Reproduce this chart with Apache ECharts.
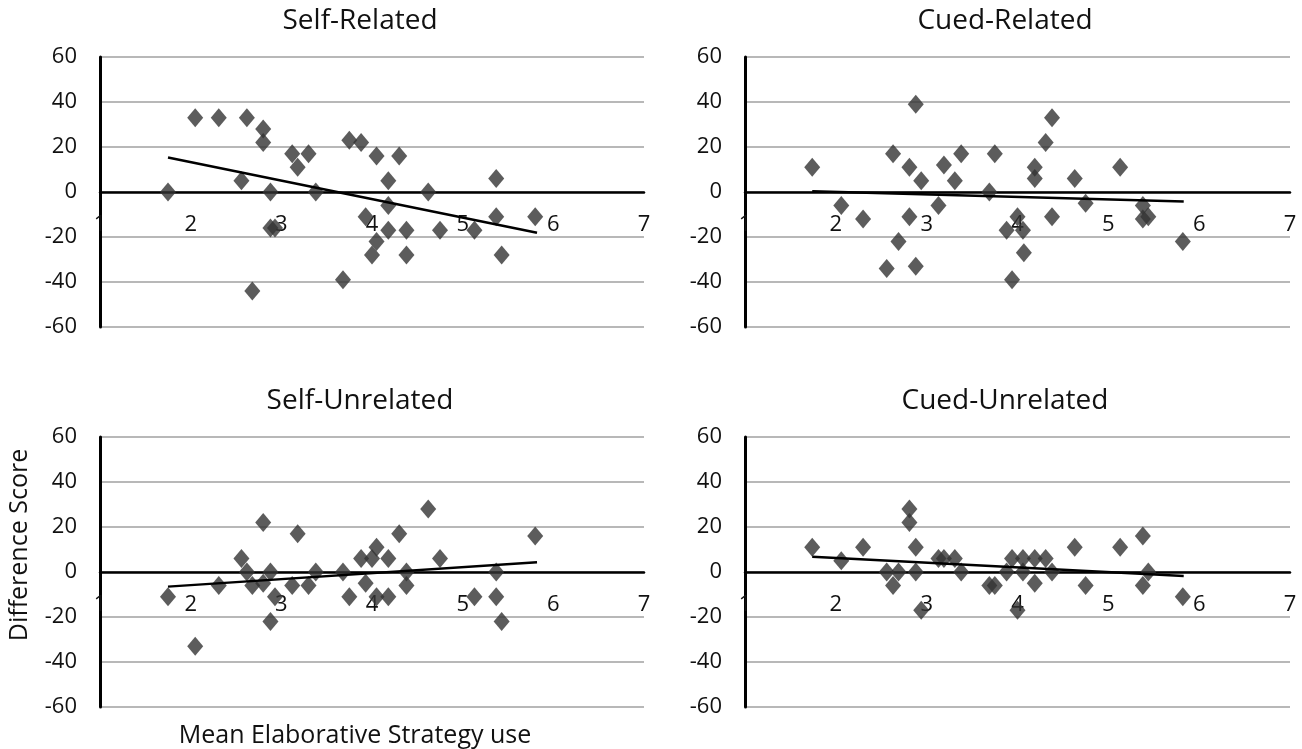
<!DOCTYPE html>
<html lang="en" style="height: 100%">
    <head>
        <meta charset="utf-8" />
    </head>
    <body style="height: 100%; margin: 0; background: #fff">
        <div id="container" style="width: 1302px; height: 749px"></div>

        <script
            type="text/javascript"
            src="https://fastly.jsdelivr.net/npm/echarts@6.0.0/dist/echarts.min.js"
        ></script>

        <script type="text/javascript">
            var panelTitles = ['Self-Related', 'Cued-Related', 'Self-Unrelated', 'Cued-Unrelated'];
            var xTicks = [1, 2, 3, 4, 5, 6, 7];
            var yTicks = [-60, -40, -20, 0, 20, 40, 60];

            // [mean strategy use, difference score]
            var selfRelated = [
                [1.75, 0], [2.05, 33], [2.31, 33], [2.62, 33], [2.8, 28], [2.8, 22],
                [2.56, 5], [2.88, 0], [2.88, -16], [2.93, -16], [2.68, -44], [3.12, 17],
                [3.3, 17], [3.18, 11], [3.38, 0], [3.75, 23], [3.88, 22], [3.68, -39],
                [3.93, -11], [4.05, 16], [4.3, 16], [4.18, 5], [4.18, -6], [4.05, -22],
                [4.0, -28], [4.18, -17], [4.38, -17], [4.38, -28], [4.62, 0], [4.75, -17],
                [5.13, -17], [5.37, 6], [5.37, -11], [5.43, -28], [5.8, -11]
            ];
            var cuedRelated = [
                [1.74, 11], [2.06, -6], [2.3, -12], [2.63, 17], [2.56, -34], [2.69, -22],
                [2.81, 11], [2.81, -11], [2.88, 39], [2.88, -33], [2.94, 5], [3.13, -6],
                [3.19, 12], [3.31, 5], [3.38, 17], [3.69, 0], [3.75, 17], [3.88, -17],
                [3.94, -39], [4.0, -11], [4.06, -17], [4.07, -27], [4.19, 11], [4.19, 6],
                [4.31, 22], [4.38, 33], [4.38, -11], [4.63, 6], [4.75, -5], [5.13, 11],
                [5.38, -6], [5.38, -12], [5.44, -11], [5.82, -22]
            ];
            var selfUnrelated = [
                [1.75, -11], [2.05, -33], [2.31, -6], [2.56, 6], [2.62, 0], [2.68, -6],
                [2.8, 22], [2.8, -5], [2.88, 0], [2.93, -11], [2.88, -22], [3.12, -6],
                [3.18, 17], [3.3, -6], [3.38, 0], [3.68, 0], [3.75, -11], [3.88, 6],
                [3.93, -5], [4.0, 6], [4.05, 11], [4.05, -11], [4.18, 6], [4.18, -11],
                [4.3, 17], [4.38, 0], [4.38, -6], [4.62, 28], [4.75, 6], [5.13, -11],
                [5.37, 0], [5.37, -11], [5.43, -22], [5.8, 16]
            ];
            var cuedUnrelated = [
                [1.74, 11], [2.06, 5], [2.3, 11], [2.56, 0], [2.63, -6], [2.69, 0],
                [2.81, 28], [2.81, 22], [2.88, 11], [2.88, 0], [2.94, -17], [3.13, 6],
                [3.19, 6], [3.31, 6], [3.38, 0], [3.69, -6], [3.75, -6], [3.88, 0],
                [3.94, 6], [4.0, -17], [4.06, 6], [4.06, 0], [4.19, 6], [4.19, -5],
                [4.31, 6], [4.38, 0], [4.63, 11], [4.75, -6], [5.13, 11], [5.38, 16],
                [5.38, -6], [5.44, 0], [5.82, -11]
            ];

            // linear trend line end points
            var selfRelatedTrend = [[1.75, 15.3], [5.82, -18.1]];
            var cuedRelatedTrend = [[1.74, 0.3], [5.83, -4.2]];
            var selfUnrelatedTrend = [[1.75, -6.5], [5.82, 4.3]];
            var cuedUnrelatedTrend = [[1.74, 6.8], [5.83, -1.8]];

            var pointSets = [selfRelated, cuedRelated, selfUnrelated, cuedUnrelated];
            var trendSets = [selfRelatedTrend, cuedRelatedTrend, selfUnrelatedTrend, cuedUnrelatedTrend];

            var font = '"Open Sans", "Noto Sans", sans-serif';
            var grids = [
                { left: 100, top: 57, width: 544, height: 270 },
                { left: 745, top: 57, width: 545, height: 270 },
                { left: 100, top: 437, width: 544, height: 270 },
                { left: 745, top: 437, width: 545, height: 270 }
            ];
            var titleX = [355, 1000, 355, 1000];
            var titleY = [2, 2, 382, 382];

            var dom = document.getElementById('container');
            var myChart = echarts.init(dom, null, { renderer: 'canvas' });

            var titles = panelTitles.map(function (t, i) {
                return {
                    text: t,
                    left: titleX[i],
                    top: titleY[i],
                    textAlign: 'center',
                    textStyle: { fontFamily: font, fontSize: 28, fontWeight: 'normal', color: '#111' }
                };
            });

            var xAxes = [], yAxes = [], series = [];
            for (var i = 0; i < 4; i++) {
                xAxes.push({
                    type: 'value',
                    gridIndex: i,
                    min: xTicks[0],
                    max: xTicks[xTicks.length - 1],
                    interval: 1,
                    // axis crosses at y = 0, the middle of the -60..60 range
                    offset: -grids[i].height / 2,
                    axisLine: { onZero: false, lineStyle: { color: '#000', width: 2.5 } },
                    axisTick: { show: false },
                    splitLine: { show: false },
                    axisLabel: {
                        margin: 22,
                        showMinLabel: true,
                        showMaxLabel: true,
                        fontFamily: font,
                        fontSize: 22,
                        color: '#111'
                    }
                });
                yAxes.push({
                    type: 'value',
                    gridIndex: i,
                    min: yTicks[0],
                    max: yTicks[yTicks.length - 1],
                    interval: 20,
                    axisLine: { show: true, onZero: false, lineStyle: { color: '#000', width: 3 } },
                    axisTick: { show: false },
                    splitLine: { lineStyle: { color: '#b8b8b8', width: 2 } },
                    axisLabel: { margin: 23, fontFamily: font, fontSize: 22, color: '#111' }
                });
                series.push({
                    type: 'scatter',
                    xAxisIndex: i,
                    yAxisIndex: i,
                    symbol: 'diamond',
                    symbolSize: [16, 19],
                    itemStyle: { color: '#333' },
                    data: pointSets[i],
                    z: 3
                });
                series.push({
                    type: 'line',
                    xAxisIndex: i,
                    yAxisIndex: i,
                    showSymbol: false,
                    symbol: 'none',
                    lineStyle: { color: '#000', width: 2.5 },
                    data: trendSets[i],
                    z: 4
                });
            }

            var option = {
                animation: false,
                backgroundColor: '#fff',
                title: titles,
                grid: grids,
                xAxis: xAxes,
                yAxis: yAxes,
                series: series,
                graphic: [
                    {
                        type: 'text',
                        x: 355,
                        y: 736,
                        style: {
                            text: 'Mean Elaborative Strategy use',
                            font: '25px ' + font,
                            fill: '#111',
                            align: 'center',
                            verticalAlign: 'middle'
                        }
                    },
                    {
                        type: 'text',
                        x: 20,
                        y: 545,
                        rotation: Math.PI / 2,
                        style: {
                            text: 'Difference Score',
                            font: '25px ' + font,
                            fill: '#111',
                            align: 'center',
                            verticalAlign: 'middle'
                        }
                    }
                ]
            };
            myChart.setOption(option);

            window.addEventListener('resize', myChart.resize);
        </script>
    </body>
</html>
